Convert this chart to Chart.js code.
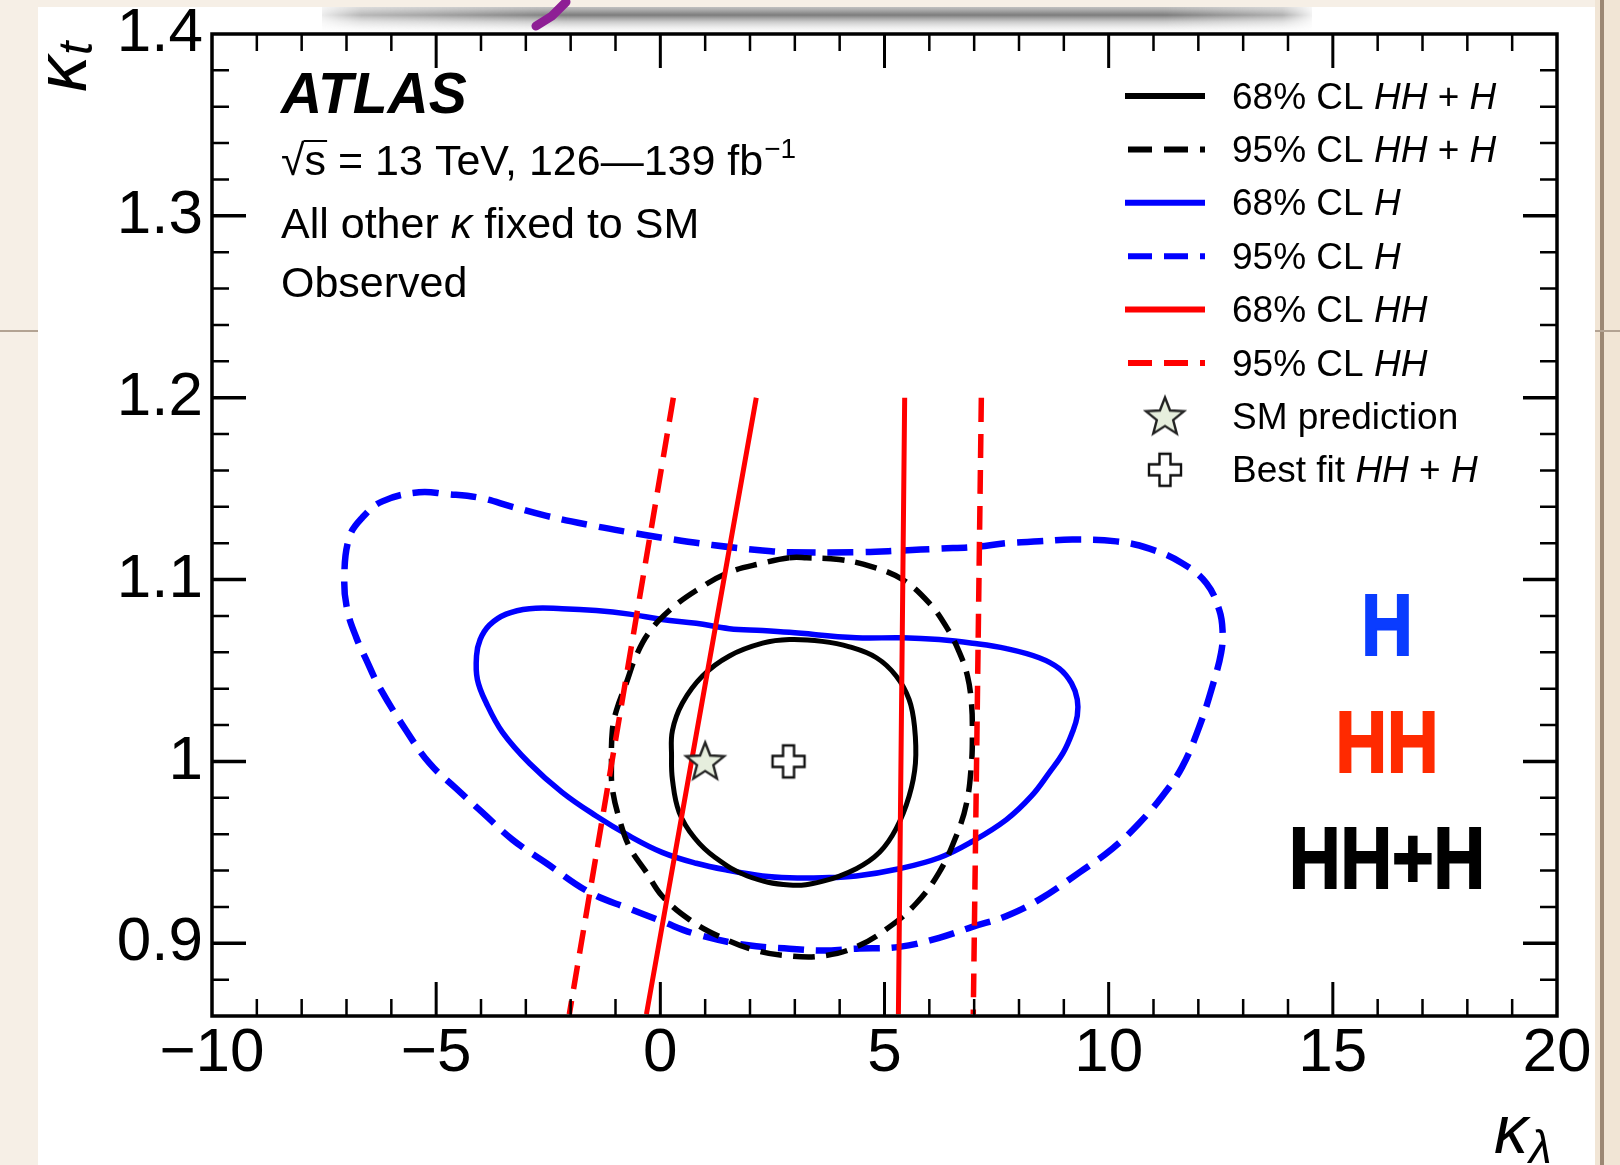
<!DOCTYPE html>
<html>
<head>
<meta charset="utf-8">
<script src="https://cdn.jsdelivr.net/npm/chart.js@4.4.1/dist/chart.umd.min.js"></script>
<style>
  html, body { margin: 0; padding: 0; background: #f6efe6; }
  #wrap { width: 1620px; height: 1165px; }
</style>
</head>
<body>
<div id="wrap"><canvas id="kappaChart" width="1620" height="1165"></canvas></div>
<script>
const FONT = '"Liberation Sans", Arial, Helvetica, sans-serif';

// axes
const xRange = [-10, 20];
const yRange = [0.86, 1.4];
const xTicks = [-10, -5, 0, 5, 10, 15, 20];
const yTicks = [0.9, 1.0, 1.1, 1.2, 1.3, 1.4];

// contours, as [kappa_lambda, kappa_t], going round each loop
const h95 = [
  [2.88, 1.115], [4.37, 1.115], [5.40, 1.116], [6.22, 1.117],
  [7.05, 1.118], [7.72, 1.120], [8.45, 1.121], [9.19, 1.122], [10.17, 1.121], [10.91, 1.117],
  [11.64, 1.109], [12.18, 1.098], [12.47, 1.083], [12.54, 1.072], [12.51, 1.060], [12.31, 1.041],
  [12.02, 1.019], [11.64, 0.997], [11.20, 0.981], [10.68, 0.966], [10.08, 0.952], [9.35, 0.939],
  [8.45, 0.924], [7.72, 0.915], [6.96, 0.909], [6.22, 0.903], [5.33, 0.898], [4.37, 0.897],
  [3.61, 0.896], [2.88, 0.897], [1.92, 0.899], [0.80, 0.905], [0.04, 0.912], [-0.69, 0.919],
  [-1.58, 0.928], [-2.54, 0.944], [-3.30, 0.957], [-3.97, 0.972], [-4.55, 0.985], [-5.15, 0.999],
  [-5.67, 1.017], [-6.27, 1.041], [-6.56, 1.056], [-6.78, 1.068], [-6.98, 1.083], [-7.05, 1.100],
  [-6.94, 1.123], [-6.65, 1.134], [-6.20, 1.143], [-5.38, 1.148], [-4.77, 1.147],
  [-4.04, 1.145], [-3.30, 1.140], [-2.54, 1.135], [-1.58, 1.130], [-0.69, 1.126], [0.04, 1.123],
  [1.16, 1.119], [2.28, 1.116]
];
const h68 = [
  [2.88, 1.071], [4.37, 1.068], [5.40, 1.068], [6.22, 1.067], [6.96, 1.065], [7.72, 1.062],
  [8.45, 1.057], [8.90, 1.051], [9.17, 1.043], [9.30, 1.034], [9.30, 1.025], [9.19, 1.016],
  [8.99, 1.005], [8.68, 0.994], [8.28, 0.981], [7.72, 0.968], [6.96, 0.956], [6.22, 0.947],
  [5.33, 0.941], [4.37, 0.937], [3.61, 0.936], [2.88, 0.936], [2.28, 0.937], [1.54, 0.940],
  [0.80, 0.944], [0.04, 0.950], [-0.69, 0.959], [-1.43, 0.970], [-2.19, 0.983], [-2.92, 0.999],
  [-3.52, 1.016], [-3.88, 1.032], [-4.08, 1.045], [-4.10, 1.058], [-4.02, 1.067], [-3.81, 1.075],
  [-3.44, 1.081], [-2.92, 1.084], [-2.19, 1.084], [-1.43, 1.083], [-0.69, 1.081], [0.04, 1.078],
  [0.80, 1.076], [1.54, 1.073], [2.28, 1.072]
];
const hhh95 = [
  [2.88, 1.112], [3.26, 1.112], [3.99, 1.111],
  [4.73, 1.107], [5.40, 1.100], [6.00, 1.087], [6.38, 1.074], [6.67, 1.060], [6.85, 1.047],
  [6.94, 1.032], [6.96, 1.016], [6.94, 0.999], [6.83, 0.977], [6.60, 0.959], [6.22, 0.939],
  [5.71, 0.922], [5.11, 0.909], [4.37, 0.898], [3.61, 0.893], [2.88, 0.893], [2.14, 0.896],
  [1.38, 0.903], [0.65, 0.913], [0.04, 0.926], [-0.31, 0.939], [-0.69, 0.953], [-0.91, 0.968],
  [-1.07, 0.985], [-1.09, 0.999], [-1.07, 1.017], [-0.98, 1.028], [-0.76, 1.043], [-0.54, 1.058],
  [-0.25, 1.071], [0.20, 1.083], [0.80, 1.094], [1.54, 1.104], [2.28, 1.109]
];
const hhh68 = [
  [2.88, 1.067], [3.61, 1.066], [4.22, 1.063], [4.82, 1.057], [5.26, 1.047], [5.55, 1.034],
  [5.67, 1.019], [5.69, 0.999], [5.55, 0.981], [5.26, 0.963], [4.89, 0.950], [4.37, 0.941],
  [3.61, 0.934], [2.88, 0.932], [1.94, 0.937], [1.23, 0.947], [0.76, 0.958], [0.42, 0.972],
  [0.27, 0.990], [0.25, 1.003], [0.27, 1.017], [0.49, 1.032], [0.94, 1.047], [1.54, 1.058],
  [2.28, 1.065]
];
// HH-only bands are almost straight in this plane
const hh95Left = [[0.29, 1.2], [-2.03, 0.861]];
const hh68Left = [[2.14, 1.2], [-0.31, 0.861]];
const hh68Right = [[5.45, 1.2], [5.31, 0.861]];
const hh95Right = [[7.16, 1.2], [6.98, 0.861]];

const smPoint = [[1.0, 1.0]];
const bestFit = [[2.86, 1.0]];

const legendRows = [
  { color: '#000', dash: false, parts: [['68% CL ', ''], ['HH', 'italic '], [' + ', ''], ['H', 'italic ']] },
  { color: '#000', dash: true, parts: [['95% CL ', ''], ['HH', 'italic '], [' + ', ''], ['H', 'italic ']] },
  { color: '#0000ff', dash: false, parts: [['68% CL ', ''], ['H', 'italic ']] },
  { color: '#0000ff', dash: true, parts: [['95% CL ', ''], ['H', 'italic ']] },
  { color: '#ff0000', dash: false, parts: [['68% CL ', ''], ['HH', 'italic ']] },
  { color: '#ff0000', dash: true, parts: [['95% CL ', ''], ['HH', 'italic ']] },
  { marker: 'star', parts: [['SM prediction', '']] },
  { marker: 'cross', parts: [['Best fit ', ''], ['HH', 'italic '], [' + ', ''], ['H', 'italic ']] }
];

// marker images
function makeStar() {
  const c = document.createElement('canvas');
  c.width = 46; c.height = 46;
  const g = c.getContext('2d');
  g.beginPath();
  for (let i = 0; i < 10; i++) {
    const r = i % 2 === 0 ? 20 : 8.6;
    const a = -Math.PI / 2 + i * Math.PI / 5;
    const px = 23 + r * Math.cos(a), py = 24 + r * Math.sin(a);
    i === 0 ? g.moveTo(px, py) : g.lineTo(px, py);
  }
  g.closePath();
  g.fillStyle = '#e6eedd';
  g.fill();
  g.lineWidth = 2.4;
  g.strokeStyle = '#222';
  g.stroke();
  return c;
}
function makeCross() {
  const c = document.createElement('canvas');
  c.width = 40; c.height = 40;
  const g = c.getContext('2d');
  const m = 20, a = 16, w = 5.5;
  g.beginPath();
  g.moveTo(m - w, m - a); g.lineTo(m + w, m - a); g.lineTo(m + w, m - w); g.lineTo(m + a, m - w);
  g.lineTo(m + a, m + w); g.lineTo(m + w, m + w); g.lineTo(m + w, m + a); g.lineTo(m - w, m + a);
  g.lineTo(m - w, m + w); g.lineTo(m - a, m + w); g.lineTo(m - a, m - w); g.lineTo(m - w, m - w);
  g.closePath();
  g.fillStyle = '#fff';
  g.fill();
  g.lineWidth = 2.4;
  g.strokeStyle = '#111';
  g.stroke();
  return c;
}
const starImg = makeStar();
const crossImg = makeCross();

function curve(points, closed, color, width, dash, order) {
  return {
    data: points.map(([x, y]) => ({ x, y })), closed, showLine: true,
    borderColor: color, borderWidth: width, borderDash: dash,
    pointRadius: 0, tension: 0.4, fill: false, order
  };
}
function marker(points, img) {
  return {
    data: points.map(([x, y]) => ({ x, y })), showLine: false,
    pointStyle: img, pointRadius: 20, order: 0
  };
}

const datasets = [
  marker(smPoint, starImg),
  marker(bestFit, crossImg),
  curve(hh68Left, false, '#ff0000', 5, [], 1),
  curve(hh68Right, false, '#ff0000', 5, [], 1),
  curve(hh95Left, false, '#ff0000', 5.5, [24, 12], 1),
  curve(hh95Right, false, '#ff0000', 5.5, [24, 12], 1),
  curve(hhh68, true, '#000000', 5, [], 2),
  curve(hhh95, true, '#000000', 5.5, [22, 11], 2),
  curve(h68, true, '#0000ff', 5.5, [], 3),
  curve(h95, true, '#0000ff', 6.5, [26, 12], 3)
];

function runs(ctx, x, y, parts, size) {
  for (const [t, style] of parts) {
    ctx.font = style + size + 'px ' + FONT;
    ctx.fillText(t, x, y);
    x += ctx.measureText(t).width;
  }
  return x;
}

// let the line element close the contours smoothly (same path the radar chart uses)
const loops = {
  id: 'loops',
  afterDatasetUpdate(chart, args) {
    if (chart.data.datasets[args.index].closed) {
      args.meta.dataset._loop = true;
      args.meta.dataset._fullLoop = true;
    }
  }
};

const decor = {
  id: 'decor',
  beforeDraw(chart) {
    const ctx = chart.ctx;
    ctx.save();
    ctx.fillStyle = '#f6efe6';
    ctx.fillRect(0, 0, 1620, 1165);
    ctx.fillStyle = '#f1e5d5';
    ctx.fillRect(1595, 0, 25, 1165);
    ctx.fillStyle = '#9c8874';
    ctx.fillRect(1600, 0, 4, 1165);
    ctx.fillStyle = '#b3a393';
    ctx.fillRect(0, 330, 38, 2);
    ctx.fillRect(1595, 330, 25, 2);
    ctx.fillStyle = '#ffffff';
    ctx.fillRect(38, 7, 1557, 1158);
    // smudged strip along the top edge
    const s = document.createElement('canvas');
    s.width = 990; s.height = 27;
    const g = s.getContext('2d');
    const vg = g.createLinearGradient(0, 0, 0, 27);
    vg.addColorStop(0, 'rgba(130,130,130,0.5)');
    vg.addColorStop(0.3, 'rgba(80,80,80,0.75)');
    vg.addColorStop(0.55, 'rgba(150,150,150,0.5)');
    vg.addColorStop(1, 'rgba(235,235,235,0)');
    g.fillStyle = vg;
    g.fillRect(0, 0, 990, 27);
    g.globalCompositeOperation = 'destination-in';
    const hg = g.createLinearGradient(0, 0, 990, 0);
    hg.addColorStop(0, 'rgba(0,0,0,0.15)');
    hg.addColorStop(0.04, 'rgba(0,0,0,0.55)');
    hg.addColorStop(0.25, 'rgba(0,0,0,1)');
    hg.addColorStop(0.85, 'rgba(0,0,0,1)');
    hg.addColorStop(0.97, 'rgba(0,0,0,0.6)');
    hg.addColorStop(1, 'rgba(0,0,0,0.1)');
    g.fillStyle = hg;
    g.fillRect(0, 0, 990, 27);
    ctx.drawImage(s, 322, 7);
    ctx.strokeStyle = '#8e1f95';
    ctx.lineWidth = 9;
    ctx.lineCap = 'round';
    ctx.beginPath();
    ctx.moveTo(566, 2); ctx.lineTo(552, 16); ctx.lineTo(536, 26);
    ctx.stroke();
    ctx.restore();
  },
  afterDraw(chart) {
    const ctx = chart.ctx;
    const { left, right, top, bottom } = chart.chartArea;
    const xs = chart.scales.x, ys = chart.scales.y;
    ctx.save();
    ctx.strokeStyle = '#000';
    // ticks pointing inwards
    for (let v = xRange[0] + 1; v < xRange[1]; v++) {
      const px = xs.getPixelForValue(v);
      const len = v % 5 === 0 ? 34 : 17;
      ctx.lineWidth = v % 5 === 0 ? 3 : 2.5;
      ctx.beginPath();
      ctx.moveTo(px, bottom); ctx.lineTo(px, bottom - len);
      ctx.moveTo(px, top); ctx.lineTo(px, top + len);
      ctx.stroke();
    }
    for (let k = 88; k < 140; k += 2) {
      const py = ys.getPixelForValue(k / 100);
      const major = k % 10 === 0;
      const len = major ? 34 : 17;
      ctx.lineWidth = major ? 3.5 : 2.5;
      ctx.beginPath();
      ctx.moveTo(left, py); ctx.lineTo(left + len, py);
      ctx.moveTo(right, py); ctx.lineTo(right - len, py);
      ctx.stroke();
    }
    ctx.lineWidth = 3.5;
    ctx.strokeRect(left, top, right - left, bottom - top);

    // axis titles
    ctx.fillStyle = '#000';
    ctx.textAlign = 'left';
    ctx.textBaseline = 'alphabetic';
    ctx.font = 'italic 68px ' + FONT;
    ctx.fillText('κ', 1494, 1153);
    const kw = ctx.measureText('κ').width;
    ctx.font = 'italic 46px ' + FONT;
    ctx.fillText('λ', 1494 + kw + 1, 1163);
    ctx.save();
    ctx.translate(86, 92);
    ctx.rotate(-Math.PI / 2);
    ctx.font = 'italic 72px ' + FONT;
    ctx.fillText('κ', 0, 0);
    const kw2 = ctx.measureText('κ').width;
    ctx.font = 'italic 48px ' + FONT;
    ctx.fillText('t', kw2 + 1, 6);
    ctx.restore();

    // labels top left
    const tx = 281;
    ctx.font = 'italic bold 57px ' + FONT;
    ctx.fillText('ATLAS', tx, 113);
    ctx.font = '43px ' + FONT;
    ctx.fillText('√', tx, 175);
    const rw = ctx.measureText('√').width;
    ctx.fillText('s', tx + rw, 175);
    const sw = ctx.measureText('s').width;
    ctx.lineWidth = 2;
    ctx.beginPath();
    ctx.moveTo(tx + rw - 1, 141); ctx.lineTo(tx + rw + sw + 1, 141);
    ctx.stroke();
    const xe = runs(ctx, tx + rw + sw, 175, [[' = 13 TeV, 126—139 fb', '']], 43);
    ctx.font = '28px ' + FONT;
    ctx.fillText('−1', xe + 1, 158);
    runs(ctx, tx, 238, [['All other ', ''], ['κ', 'italic '], [' fixed to SM', '']], 43);
    runs(ctx, tx, 297, [['Observed', '']], 43);

    // legend
    legendRows.forEach((row, i) => {
      const cy = 96 + i * 53.4;
      if (row.marker) {
        const img = row.marker === 'star' ? starImg : crossImg;
        ctx.drawImage(img, 1165 - img.width / 2, cy - img.height / 2);
      } else {
        ctx.strokeStyle = row.color;
        ctx.lineWidth = 6;
        ctx.setLineDash(row.dash ? [24, 12] : []);
        ctx.lineCap = 'butt';
        ctx.beginPath();
        ctx.moveTo(row.dash ? 1128 : 1125, cy); ctx.lineTo(1205, cy);
        ctx.stroke();
        ctx.setLineDash([]);
      }
      ctx.fillStyle = '#000';
      runs(ctx, 1232, cy + 12.5, row.parts, 37);
    });

    // hand written tags on the right
    const tags = [['H', '#0a3cff', 655], ['HH', '#ff2a00', 772], ['HH+H', '#000000', 888]];
    for (const [t, col, base] of tags) {
      ctx.save();
      ctx.translate(1387, base);
      ctx.scale(0.82, 1);
      ctx.font = 'bold 87px ' + FONT;
      ctx.textAlign = 'center';
      ctx.fillStyle = col;
      ctx.strokeStyle = col;
      ctx.lineWidth = 2;
      ctx.fillText(t, 0, 0);
      ctx.strokeText(t, 0, 0);
      ctx.restore();
    }
    ctx.restore();
  }
};

new Chart(document.getElementById('kappaChart'), {
  type: 'scatter',
  data: { datasets },
  options: {
    responsive: false,
    animation: false,
    devicePixelRatio: 1,
    layout: { padding: { left: 0, top: 34, right: 63, bottom: 0 } },
    plugins: { legend: { display: false }, tooltip: { enabled: false } },
    scales: {
      x: {
        type: 'linear', min: xRange[0], max: xRange[1],
        grid: { display: false }, border: { display: false },
        afterBuildTicks: s => { s.ticks = xTicks.map(v => ({ value: v })); },
        afterFit: s => { s.height = 149; },
        ticks: {
          font: { family: FONT, size: 62, lineHeight: 0.95 }, color: '#000', padding: 0,
          maxRotation: 0, autoSkip: false,
          callback: v => (v < 0 ? '−' + Math.abs(v) : String(v))
        }
      },
      y: {
        type: 'linear', min: yRange[0], max: yRange[1],
        grid: { display: false }, border: { display: false },
        afterBuildTicks: s => { s.ticks = yTicks.map(v => ({ value: v })); },
        afterFit: s => { s.width = 212; },
        ticks: {
          font: { family: FONT, size: 62, lineHeight: 1 }, color: '#000', padding: 1,
          autoSkip: false,
          callback: v => String(Math.round(v * 10) / 10)
        }
      }
    }
  },
  plugins: [loops, decor]
});
</script>
</body>
</html>
